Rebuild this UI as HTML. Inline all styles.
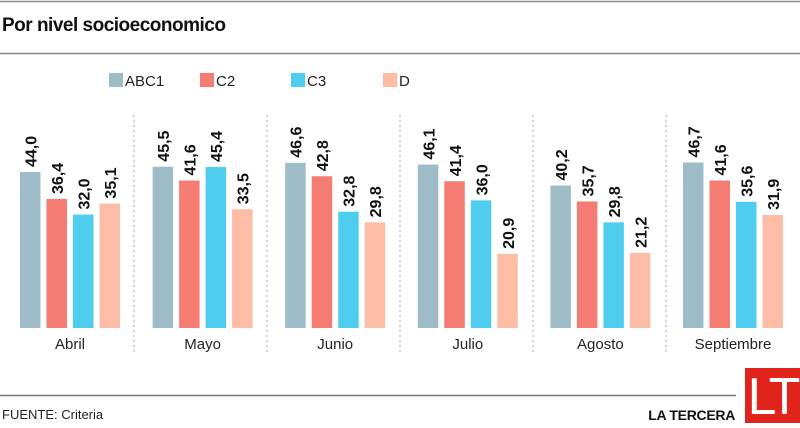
<!DOCTYPE html><html><head><style>body{margin:0;width:800px;height:423px;overflow:hidden;background:#fff;font-family:"Liberation Sans",sans-serif}</style></head><body>
<svg width="800" height="423" xmlns="http://www.w3.org/2000/svg" font-family="Liberation Sans, sans-serif">
<line x1="0" y1="1.5" x2="800" y2="1.5" stroke="#888" stroke-width="1.5"/>
<text x="2" y="31" font-size="19" font-weight="bold" fill="#111" letter-spacing="-0.5">Por nivel socioeconomico</text>
<line x1="0" y1="53.5" x2="800" y2="53.5" stroke="#888" stroke-width="1.5"/>
<g font-size="15" fill="#222">
<rect x="109" y="73" width="14" height="14" fill="#9dbcc8"/><text x="125" y="86">ABC1</text>
<rect x="200" y="73" width="14" height="14" fill="#f47c72"/><text x="216" y="86">C2</text>
<rect x="291" y="73" width="14" height="14" fill="#4fcdef"/><text x="307" y="86">C3</text>
<rect x="383" y="73" width="14" height="14" fill="#fdbca5"/><text x="399" y="86">D</text>
</g>
<g stroke="#aaa" stroke-dasharray="2,3">
<line x1="134" y1="115" x2="134" y2="355"/><line x1="267" y1="115" x2="267" y2="355"/><line x1="400" y1="115" x2="400" y2="355"/><line x1="533" y1="115" x2="533" y2="355"/><line x1="666" y1="115" x2="666" y2="355"/>
</g>
<g id="bars"></g>
<line x1="0" y1="395.5" x2="736" y2="395.5" stroke="#777" stroke-width="1.5"/>
<text x="2" y="419" font-size="13" fill="#222">FUENTE: Criteria</text>
<text x="735" y="420" font-size="14" font-weight="bold" fill="#111" text-anchor="end" letter-spacing="-0.3">LA TERCERA</text>
<rect x="745" y="368" width="55" height="55" fill="#e0231b"/>
<text x="772" y="414" font-size="52" fill="#fff" text-anchor="middle" letter-spacing="-4">LT</text>
</svg>
<script>
var d=[["Abril",[44.0,36.4,32.0,35.1]],["Mayo",[45.5,41.6,45.4,33.5]],["Junio",[46.6,42.8,32.8,29.8]],["Julio",[46.1,41.4,36.0,20.9]],["Agosto",[40.2,35.7,29.8,21.2]],["Septiembre",[46.7,41.6,35.6,31.9]]];
var c=["#9dbcc8","#f47c72","#4fcdef","#fdbca5"],s="",B=328,k=3.545;
d.forEach(function(g,i){var x0=20+i*132.6;
g[1].forEach(function(v,j){var x=x0+j*26.5,h=v*k,t=B-h;
s+='<rect x="'+x+'" y="'+t+'" width="20.5" height="'+h+'" fill="'+c[j]+'"/>';
s+='<text transform="translate('+(x+16.5)+','+(t-5)+') rotate(-90)" font-size="16" font-weight="bold" fill="#111">'+v.toFixed(1).replace(".",",")+'</text>';});
s+='<text x="'+(x0+50)+'" y="349" font-size="15" fill="#222" text-anchor="middle">'+g[0]+'</text>';});
document.getElementById("bars").innerHTML=s;
</script>
</body></html>
